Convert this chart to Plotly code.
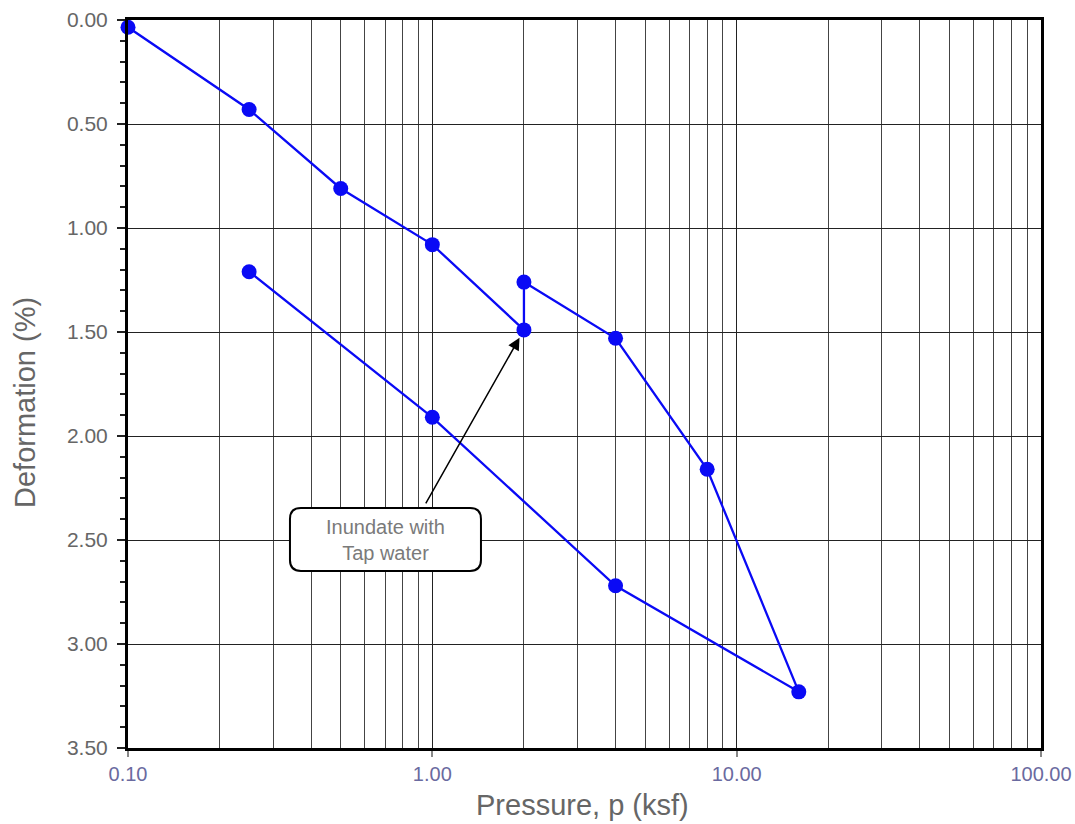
import plotly.graph_objects as go
import math

pressure = [0.1, 0.25, 0.5, 1.0, 2.0, 2.0, 4.0, 8.0, 16.0, 4.0, 1.0, 0.25]
deformation = [0.035, 0.43, 0.81, 1.08, 1.49, 1.26, 1.53, 2.16, 3.23, 2.72, 1.91, 1.21]
x_major = [0.1, 1.0, 10.0, 100.0]
x_minor = [m * d for d in (0.1, 1.0, 10.0) for m in range(2, 10)]
note_text = "Inundate with<br>Tap water"
note_point = (2.0, 1.49)
x_title = "Pressure, p (ksf)"
y_title = "Deformation (%)"

fig = go.Figure()
fig.add_trace(go.Scatter(
    x=pressure, y=deformation, mode="lines+markers",
    line=dict(color="#0a0af5", width=2.3),
    marker=dict(color="#0a0af5", size=15),
    showlegend=False, cliponaxis=False,
))

fig.update_layout(
    width=1075, height=824,
    margin=dict(l=128, r=34, t=20, b=76, autoexpand=False),
    plot_bgcolor="white", paper_bgcolor="white",
    font=dict(family="Liberation Sans, Arial, sans-serif", color="#666666"),
    xaxis=dict(
        type="log", range=[-1, 2], automargin=False,
        tickvals=x_major, tickformat=".2f",
        tickfont=dict(size=20, color="#6a6aa0"),
        ticks="outside", ticklen=6, tickcolor="#888888", tickwidth=1.5,
        showgrid=True, gridcolor="#222222", gridwidth=1,
        minor=dict(tickvals=x_minor, showgrid=True, gridcolor="#444444", gridwidth=1, ticks=""),
        showline=True, linecolor="black", linewidth=3, mirror=True,
        zeroline=False,
    ),
    yaxis=dict(
        range=[3.5, 0], tick0=0, dtick=0.5, tickformat=".2f", automargin=False,
        tickfont=dict(size=21, color="#666666"), ticklabelstandoff=5,
        ticks="outside", ticklen=8, tickcolor="#222222", tickwidth=1.5,
        showgrid=True, gridcolor="#222222", gridwidth=1,
        minor=dict(dtick=0.1, ticks="outside", ticklen=5, tickcolor="#222222", tickwidth=1.5, showgrid=False),
        showline=True, linecolor="black", linewidth=3, mirror=True,
        zeroline=False,
    ),
)

# axis titles
fig.add_annotation(x=(582-128)/913, y=-(805-748)/728, xref="paper", yref="paper",
                   xanchor="center", yanchor="middle", text=x_title, showarrow=False,
                   font=dict(size=29, color="#666666"))
fig.add_annotation(x=-(128-25)/913, y=(748-403)/728, xref="paper", yref="paper",
                   xanchor="center", yanchor="middle", text=y_title, showarrow=False,
                   textangle=-90, font=dict(size=29, color="#666666"))

# rounded box for note (paper coords)
x0, x1 = 0.1774, 0.3866
y0, y1 = 0.2431, 0.3297
rx, ry = 0.012, 0.015
path = (f"M {x0+rx},{y1} L {x1-rx},{y1} Q {x1},{y1} {x1},{y1-ry} "
        f"L {x1},{y0+ry} Q {x1},{y0} {x1-rx},{y0} L {x0+rx},{y0} "
        f"Q {x0},{y0} {x0},{y0+ry} L {x0},{y1-ry} Q {x0},{y1} {x0+rx},{y1} Z")
fig.add_shape(type="path", path=path, xref="paper", yref="paper",
              line=dict(color="black", width=2), fillcolor="white", layer="above")
fig.add_annotation(x=(x0+x1)/2, y=(y0+y1)/2, xref="paper", yref="paper",
                   xanchor="center", yanchor="middle",
                   text=note_text, showarrow=False,
                   font=dict(size=20, color="#7a7a7a"), align="center")
fig.add_annotation(x=math.log10(note_point[0]), y=note_point[1], xref="x", yref="y",
                   text="", showarrow=True, ax=-99, ay=175,
                   arrowhead=2, arrowsize=1.6, arrowwidth=1.5, arrowcolor="black",
                   standoff=9)

fig.write_html("out.html")
